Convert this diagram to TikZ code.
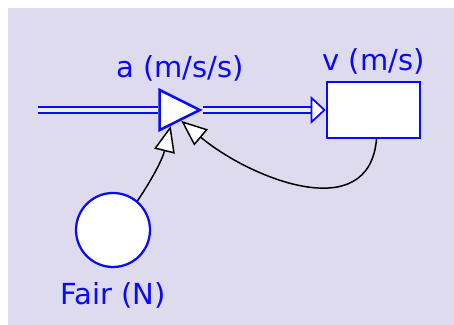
\documentclass[tikz,border=0pt]{standalone}
\usepackage{fontspec}
\setmainfont{DejaVu Sans}
\usetikzlibrary{shapes.geometric, arrows.meta}
\definecolor{bgpanel}{RGB}{221,219,237}
\definecolor{sdblue}{RGB}{10,10,250}
\tikzset{stock/.style={draw=sdblue,line width=0.5mm,fill=white,minimum width=1.86cm,minimum height=1.12cm},
         valve/.style={isosceles triangle,isosceles triangle stretches,draw=sdblue,line width=0.5mm,fill=white,
                       minimum width=0.8cm,minimum height=0.8cm,inner sep=0pt},
         aux/.style={circle,draw=sdblue,line width=0.45mm,fill=white,minimum size=1.48cm},
         lbl/.style={text=sdblue,font=\fontsize{16.5}{20}\selectfont},
         flow/.style={draw=sdblue,line width=0.45mm,double=white!50!bgpanel,double distance=0.07cm},
         link/.style={draw=black,line width=0.3mm,-{Triangle[fill=white,length=0.52cm,width=0.42cm]}},
        }

\begin{document}
\begin{tikzpicture}
        \useasboundingbox[fill=white](0,0)rectangle(9.08,6.5);
        \fill[bgpanel](0.16,0)rectangle(9.08,6.34);

        \coordinate(src)at(0.76,4.3);
        \node[valve, anchor=apex, label={[lbl,label distance=0.14cm,xshift=0.16cm]above:a (m/s/s)}](rate)at(4.06,4.3){};
        \node[stock, label={[lbl]above:v (m/s)}](vel)at(7.47,4.3){};
        \node[aux, label={[lbl,label distance=0.16cm]below:Fair (N)}](force)at(2.26,1.9){};

        \draw[flow](src)--(rate.west);
        \draw[flow,shorten >=0.28cm](rate.apex)--(vel.west);
        \draw[draw=sdblue,line width=0.35mm,-{Triangle[fill=white,length=0.3cm,width=0.55cm]}]([xshift=-1pt]vel.west)--(vel.west);

        \draw[link](force.50)to[bend right=10](rate.-95);
        \draw[link]([xshift=0.06cm]vel.south)to[out=-95,in=-40,looseness=1.15](rate.-50);
    \end{tikzpicture}
\end{document}
